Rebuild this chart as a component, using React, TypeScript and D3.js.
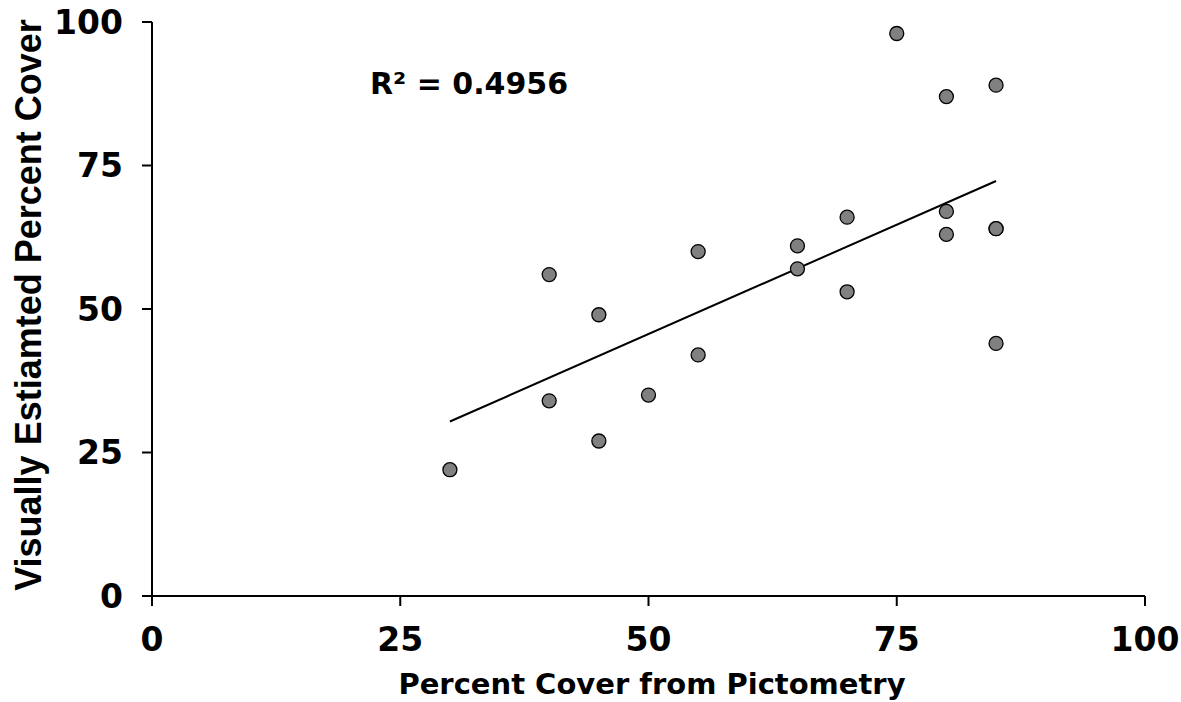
import React from 'react'
import * as d3 from 'd3'

// values
const pictometry = [30, 40, 40, 45, 45, 50, 55, 55, 65, 65, 70, 70, 75, 80, 80, 80, 85, 85, 85, 85]
const visual = [22, 56, 34, 49, 27, 35, 60, 42, 61, 57, 66, 53, 98, 87, 67, 63, 89, 64, 64, 44]
const xTicks = [0, 25, 50, 75, 100]
const yTicks = [0, 25, 50, 75, 100]
// trend line as drawn in the chart (Excel linear fit)
const trendX = [30, 85]
const trendY = [30.4, 72.3]
const rSquared = 'R² = 0.4956'

const width = 1181
const height = 702
const margin = { left: 152, right: 36, top: 22, bottom: 106 }

const tickFont = '"DejaVu Sans", Verdana, sans-serif'

export default function App() {
  const innerWidth = width - margin.left - margin.right
  const innerHeight = height - margin.top - margin.bottom

  const xScale = d3.scaleLinear().domain([0, 100]).range([0, innerWidth])
  const yScale = d3.scaleLinear().domain([0, 100]).range([innerHeight, 0])

  const trend = d3.line<number>()
    .x((d, i) => xScale(trendX[i]))
    .y(d => yScale(d))

  return (
    <svg width={width} height={height} style={{ position: 'absolute', left: 0, top: 0, background: '#fff' }}>
      <g transform={`translate(${margin.left},${margin.top})`}>
        {/* axes */}
        <line x1={0} x2={0} y1={0} y2={innerHeight} stroke="black" strokeWidth={2} />
        <line x1={0} x2={innerWidth} y1={innerHeight} y2={innerHeight} stroke="black" strokeWidth={2} />
        {
          yTicks.map((t, i) => (
            <g key={i} transform={`translate(0,${yScale(t)})`}>
              <line x1={-10} x2={0} stroke="black" strokeWidth={2} />
              <text x={-29} dy=".36em" textAnchor="end"
                style={{ fontFamily: tickFont, fontWeight: 'bold', fontSize: 33 }}>{t}</text>
            </g>
          ))
        }
        {
          xTicks.map((t, i) => (
            <g key={i} transform={`translate(${xScale(t)},${innerHeight})`}>
              <line y1={0} y2={10} stroke="black" strokeWidth={2} />
              <text y={55} textAnchor="middle"
                style={{ fontFamily: tickFont, fontWeight: 'bold', fontSize: 33 }}>{t}</text>
            </g>
          ))
        }
        <path d={trend(trendY) ?? ''} fill="none" stroke="black" strokeWidth={2} />
        {
          pictometry.map((x, i) => (
            <circle key={i} cx={xScale(x)} cy={yScale(visual[i])} r={7}
              fill="#808080" stroke="black" strokeWidth={1.3} />
          ))
        }
        <text x={370 - margin.left} y={94 - margin.top}
          style={{ fontFamily: tickFont, fontWeight: 'bold', fontSize: 30 }}>{rSquared}</text>
      </g>
      <text x={652} y={694} textAnchor="middle"
        style={{ fontFamily: tickFont, fontWeight: 'bold', fontSize: 29 }}>Percent Cover from Pictometry</text>
      <text transform={`translate(41,305) rotate(-90)`} textAnchor="middle"
        style={{ fontFamily: '"Liberation Sans", Arial, sans-serif', fontWeight: 'bold', fontSize: 36 }}>Visually Estiamted Percent Cover</text>
    </svg>
  )
}
